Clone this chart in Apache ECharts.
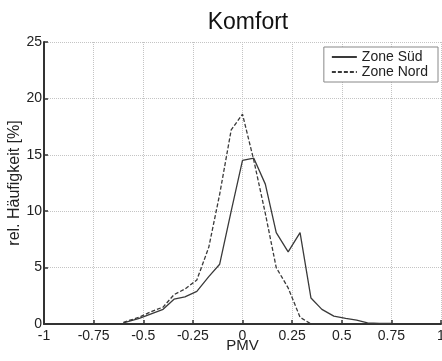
<!DOCTYPE html>
<html>
<head>
<meta charset="utf-8">
<script src="https://cdn.jsdelivr.net/npm/echarts@6/dist/echarts.min.js"></script>
<style>
html,body{margin:0;padding:0;background:#fff;}
#chart{width:442px;height:361px;}
</style>
</head>
<body>
<div id="chart"></div>
<script>
var pmv = [-0.6, -0.52, -0.46, -0.40, -0.345, -0.29, -0.23, -0.17, -0.115, -0.057, 0, 0.057, 0.115, 0.17, 0.23, 0.29, 0.345, 0.40, 0.46, 0.52, 0.575, 0.63, 0.69, 0.75];
var zoneSued = [0.1, 0.5, 0.9, 1.3, 2.2, 2.4, 2.9, 4.2, 5.3, 10.0, 14.5, 14.7, 12.4, 8.1, 6.4, 8.1, 2.3, 1.3, 0.7, 0.5, 0.35, 0.1, 0.05, 0.05];
var zoneNord = [0.15, 0.6, 1.1, 1.5, 2.6, 3.1, 3.9, 6.8, 11.5, 17.2, 18.6, 14.5, 9.8, 5.0, 3.2, 0.6, 0.0, null, null, null, null, null, null, null];
var seriesNames = ['Zone Süd', 'Zone Nord'];
var titleText = 'Komfort';
var xName = 'PMV';
var yName = 'rel. Häufigkeit [%]';

function pairs(xs, ys) {
  var out = [];
  for (var i = 0; i < xs.length; i++) {
    if (ys[i] !== null) out.push([xs[i], ys[i]]);
  }
  return out;
}

var font = 'Liberation Sans, Arial, sans-serif';
var ink = '#333';
var chart = echarts.init(document.getElementById('chart'), null, {renderer: 'canvas'});
chart.setOption({
  animation: false,
  backgroundColor: '#fff',
  title: {
    text: titleText,
    left: 243, textAlign: 'center',
    top: 6,
    textStyle: {fontFamily: font, fontSize: 23, fontWeight: 'normal', color: '#111'}
  },
  legend: {
    orient: 'vertical',
    right: 4, top: 47,
    padding: [3, 10, 3, 7],
    itemGap: 1,
    itemWidth: 25, itemHeight: 14,
    borderColor: '#888', borderWidth: 1,
    backgroundColor: '#fff',
    itemStyle: {color: 'rgba(0,0,0,0)', borderColor: 'rgba(0,0,0,0)', borderWidth: 0},
    textStyle: {fontFamily: font, fontSize: 14, color: '#222'},
    data: seriesNames
  },
  grid: {left: 44, top: 42, right: 1, bottom: 37, containLabel: false, outerBoundsMode: 'none'},
  xAxis: {
    type: 'value', min: -1, max: 1, interval: 0.25,
    name: xName, nameLocation: 'middle', nameGap: 14,
    nameMoveOverlap: false,
    nameTextStyle: {fontFamily: font, fontSize: 15, color: '#222'},
    axisLine: {show: true, onZero: false, lineStyle: {color: ink, width: 2}},
    axisTick: {show: true, inside: true, length: 4, lineStyle: {color: ink, width: 1.5}},
    axisLabel: {fontFamily: font, fontSize: 14, color: '#222', margin: 5},
    splitLine: {show: true, lineStyle: {color: '#c4c4c4', type: 'dotted', width: 1}}
  },
  yAxis: {
    type: 'value', min: 0, max: 25, interval: 5,
    name: yName, nameLocation: 'middle', nameGap: 21, nameRotate: 90,
    nameMoveOverlap: false,
    nameTextStyle: {fontFamily: font, fontSize: 16, color: '#222'},
    axisLine: {show: true, onZero: false, lineStyle: {color: ink, width: 2}},
    axisTick: {show: true, inside: true, length: 4, lineStyle: {color: ink, width: 1.5}},
    axisLabel: {fontFamily: font, fontSize: 14, color: '#222', margin: 2},
    splitLine: {show: true, lineStyle: {color: '#c4c4c4', type: 'dotted', width: 1}}
  },
  series: [
    {
      name: seriesNames[0], type: 'line', showSymbol: false, symbol: 'none',
      data: pairs(pmv, zoneSued),
      lineStyle: {color: '#3a3a3a', width: 1.3, type: 'solid'},
      itemStyle: {color: '#3a3a3a'}
    },
    {
      name: seriesNames[1], type: 'line', showSymbol: false, symbol: 'none',
      data: pairs(pmv, zoneNord),
      lineStyle: {color: '#3a3a3a', width: 1.3, type: [4, 2]},
      itemStyle: {color: '#3a3a3a'}
    }
  ]
});
</script>
</body>
</html>
